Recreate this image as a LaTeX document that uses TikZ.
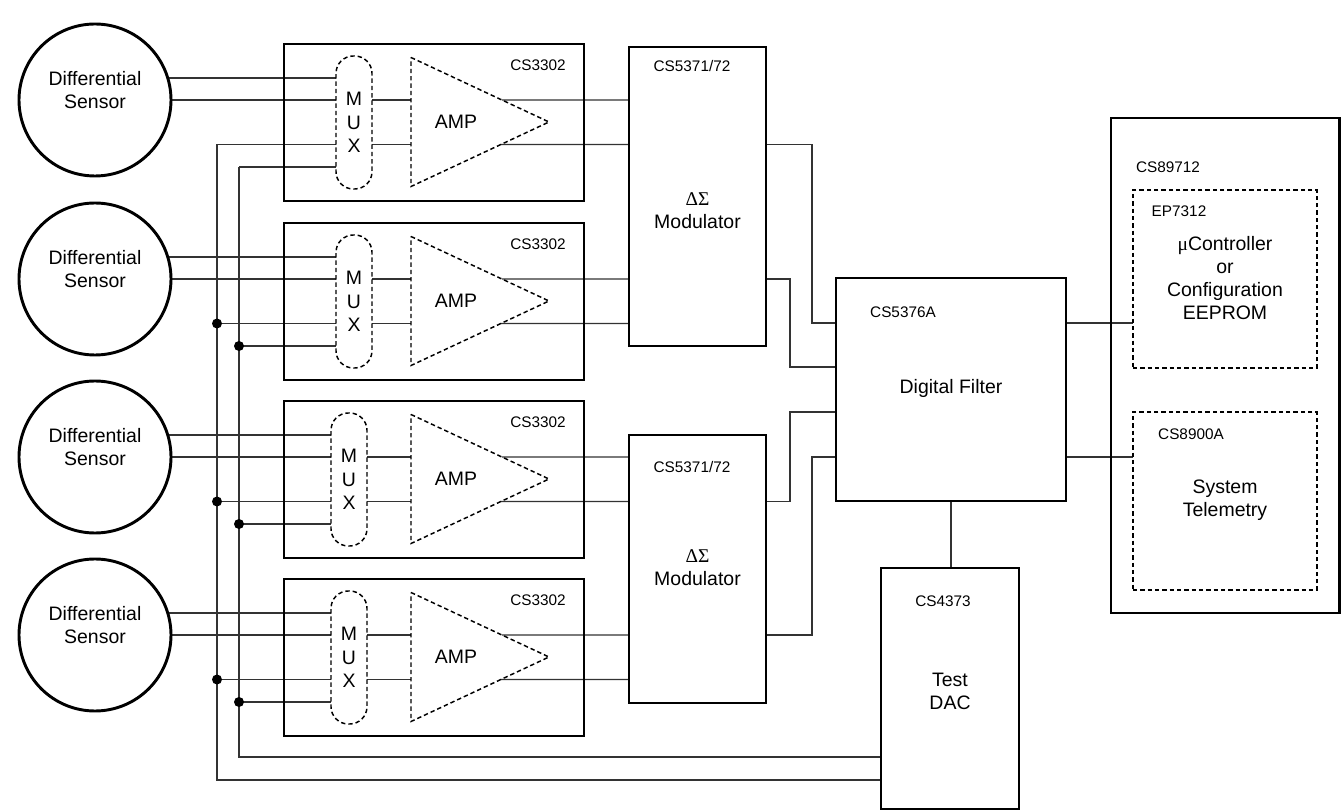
\documentclass[tikz,border=0pt]{standalone}
\usepackage{fontspec}
\setmainfont{Liberation Sans}
\newfontfamily\serif{Liberation Serif}
\usetikzlibrary{backgrounds,calc}
\newdimen\px \px=0.75pt
\newcommand\txtfont{\fontsize{14.6}{17.4}\selectfont}
\newcommand\lblfont{\fontsize{11.5}{13.8}\selectfont}
\begin{document}
\begin{tikzpicture}[x=0.75pt,y=-0.75pt,
  tbox/.style={draw, line width=2.2pt, inner sep=0pt, outer sep=0pt, anchor=north west},
  dbox/.style={draw, line width=1.1pt, dash pattern=on 3.3pt off 2.2pt, inner sep=0pt, outer sep=0pt, anchor=north west},
  dline/.style={line width=1.1pt, dash pattern=on 3.3pt off 2.2pt},
  wire/.style={draw=black!80, line width=0.9pt},
  lbl/.style={font=\lblfont, inner sep=0pt},
  txt/.style={font=\txtfont, align=center, inner sep=0pt},
  jdot/.style={circle, fill=black, inner sep=0pt, minimum size=7.5pt},
  sensor/.style={circle, draw, line width=2.2pt, fill=white, inner sep=0pt, minimum size=152\px},
]
\useasboundingbox (0,0) rectangle (1342,812);

% ---- sensor / CS3302 blocks
\foreach \i/\T/\mx in {1/44/336,2/223/336,3/401/331,4/579/331}{
  \node[tbox, minimum width=300\px, minimum height=157\px] (c\i) at (284,\T) {};
  \node[lbl] (cl\i) at (538,\T+21) {CS3302};
  \node[dbox, rounded corners=13pt, minimum width=36\px, minimum height=133\px] (mux\i) at (\mx,\T+12) {};
  \node[txt] (muxt\i) at (mux\i.center) {M\\U\\X};
  \coordinate (at\i) at (411,\T+13.5);
  \coordinate (ab\i) at (411,\T+142.5);
  \coordinate (ap\i) at (549,\T+78);
  \draw[dline] (at\i) -- (ap\i) -- (ab\i) -- cycle;
  \node[txt] (amp\i) at (456,\T+78) {AMP};
  \node[sensor] (s\i) at (95,\T+56) {};
  \node[txt] (st\i) at (95,\T+46) {Differential\\Sensor};
  \coordinate (ya\i) at (0,\T+34);
  \coordinate (yb\i) at (0,\T+56);
  \coordinate (yc\i) at (0,\T+100.5);
  \coordinate (yd\i) at (0,\T+123);
}

% ---- modulators
\node[tbox, minimum width=137\px, minimum height=299\px] (m1) at (629,47) {};
\node[lbl] (ml1) at (692,66) {CS5371/72};
\node[txt] (mt1) at (697.5,211) {{\serif ΔΣ}\\Modulator};
\node[tbox, minimum width=137\px, minimum height=268\px] (m2) at (629,435) {};
\node[lbl] (ml2) at (692,467) {CS5371/72};
\node[txt] (mt2) at (697.5,568) {{\serif ΔΣ}\\Modulator};

% ---- digital filter
\node[tbox, minimum width=230\px, minimum height=223\px] (f) at (836,278) {};
\node[lbl] (fl) at (903,312) {CS5376A};
\node[txt] (ft) at (951,388) {Digital Filter};

% ---- CS89712
\node[tbox, minimum width=228.5\px, minimum height=495\px] (big) at (1111,118) {};
\node[lbl] (bigl) at (1168,167) {CS89712};
\node[dbox, minimum width=184\px, minimum height=178\px] (e1) at (1133,190) {};
\node[lbl] (e1l) at (1179,211) {EP7312};
\node[txt] (e1t) at (1225,278) {{\serif μ}Controller\\or\\Configuration\\EEPROM};
\node[dbox, minimum width=184\px, minimum height=178\px] (e2) at (1133,412) {};
\node[lbl] (e2l) at (1191,434) {CS8900A};
\node[txt] (e2t) at (1225,500) {System\\Telemetry};

% ---- test DAC
\node[tbox, minimum width=138\px, minimum height=241\px] (dac) at (881,568) {};
\node[lbl] (dacl) at (943,601) {CS4373};
\node[txt] (dact) at (950,691) {Test\\DAC};

% helper coordinates
\coordinate (b1) at (217,0);
\coordinate (b2) at (239,0);
\coordinate (ybus1) at (0,780);
\coordinate (ybus2) at (0,757);
\coordinate (xa) at (812,0);
\coordinate (xb) at (790,0);
\coordinate (yf1) at (0,323);
\coordinate (yf2) at (0,367);
\coordinate (yf3) at (0,412);
\coordinate (yf4) at (0,457);

\begin{scope}[on background layer]
\foreach \i/\m in {1/1,2/1,3/2,4/2}{
  \draw[wire] (s\i.center |- ya\i) -- (mux\i.west |- ya\i);
  \draw[wire] (s\i.center |- yb\i) -- (mux\i.west |- yb\i);
  \draw[wire] (mux\i.east |- yb\i) -- (at\i |- yb\i);
  \draw[wire] (mux\i.east |- yc\i) -- (at\i |- yc\i);
  \draw[wire] ($(at\i)!0.659!(ap\i)$) -- (m\m.west |- yb\i);
  \draw[wire] ($(ap\i)!0.349!(ab\i)$) -- (m\m.west |- yc\i);
  \draw[wire] (b1 |- yc\i) -- (mux\i.west |- yc\i);
  \draw[wire] (b2 |- yd\i) -- (mux\i.west |- yd\i);
}
\draw[wire] (b1 |- yc1) -- (b1 |- ybus1) -- (dac.west |- ybus1);
\draw[wire] (b2 |- yd1) -- (b2 |- ybus2) -- (dac.west |- ybus2);
\draw[wire] (m1.east |- yc1) -| (xa |- yf1) -- (f.west |- yf1);
\draw[wire] (m1.east |- yb2) -| (xb |- yf2) -- (f.west |- yf2);
\draw[wire] (m2.east |- yc3) -| (xb |- yf3) -- (f.west |- yf3);
\draw[wire] (m2.east |- yb4) -| (xa |- yf4) -- (f.west |- yf4);
\draw[wire] (f.east |- yf1) -- (e1.west |- yf1);
\draw[wire] (f.east |- yf4) -- (e2.west |- yf4);
\draw[wire] (f.south) -- (f.south |- dac.north);
\end{scope}

\foreach \i in {2,3,4}{
  \node[jdot] (da\i) at (b1 |- yc\i) {};
  \node[jdot] (db\i) at (b2 |- yd\i) {};
}
\end{tikzpicture}
\end{document}
